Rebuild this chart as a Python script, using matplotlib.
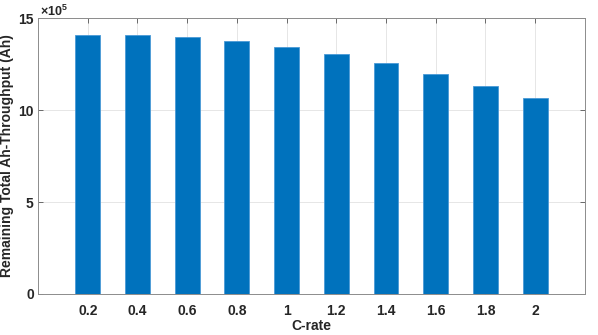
import numpy as np
import matplotlib
matplotlib.use("Agg")
import matplotlib.pyplot as plt

# data (values in units of 1e5 Ah)
c_rate = ['0.2', '0.4', '0.6', '0.8', '1', '1.2', '1.4', '1.6', '1.8', '2']
throughput = [14.08, 14.10, 13.97, 13.77, 13.44, 13.04, 12.54, 11.96, 11.32, 10.64]

plt.rcParams['font.family'] = ['Liberation Sans', 'DejaVu Sans']
plt.rcParams['font.weight'] = 'bold'
plt.rcParams['mathtext.fontset'] = 'custom'
plt.rcParams['mathtext.rm'] = 'Liberation Sans'

fig = plt.figure(figsize=(5.98, 3.35), dpi=100)
ax = fig.add_axes([0.0635, 0.1224, 0.9145, 0.8236])

pos = np.arange(1, len(c_rate) + 1)
ax.bar(pos, throughput, width=0.5, color='#0072BD', edgecolor='#4a9ad6', linewidth=0.6, zorder=3)

ax.set_xlim(0, 11)
ax.set_ylim(0, 15)
ax.set_xticks(pos)
ax.set_xticklabels(c_rate)
ax.set_yticks([0, 5, 10, 15])
ax.set_yticklabels(['0', '5', '10', '15'])

ax.grid(True, color='#e6e6e6', linewidth=0.7, zorder=0)
ax.tick_params(direction='in', top=True, right=True, length=3.5, width=0.6,
               color='#555555', labelsize=10, labelcolor='#262626')
ax.tick_params(axis='x', pad=7)
ax.tick_params(axis='y', pad=3)
for s in ax.spines.values():
    s.set_color('#8c8c8c')
    s.set_linewidth(0.7)

ax.set_xlabel('C-rate', fontsize=10, fontweight='bold', color='#262626', labelpad=1)
ax.set_ylabel('Remaining Total Ah-Throughput (Ah)', fontsize=10, fontweight='bold', color='#262626', labelpad=3)
# the x10^5 multiplier above the y axis
ax.text(0.003, 1.008, r'$\times 10^5$', transform=ax.transAxes, fontsize=9, color='#262626',
        ha='left', va='baseline')

fig.savefig('out.png', dpi=100)
